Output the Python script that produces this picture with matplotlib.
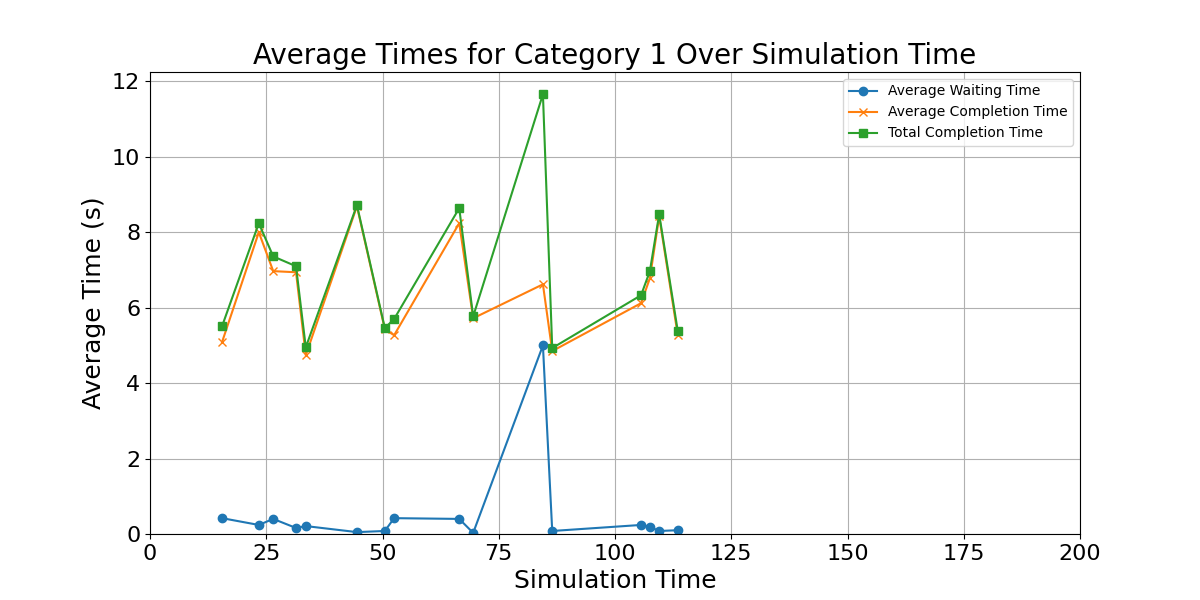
import matplotlib
matplotlib.use("Agg")
import matplotlib.pyplot as plt

sim_time = [15.5, 23.4, 26.5, 31.4, 33.5, 44.5, 50.5, 52.5, 66.5, 69.5,
            84.5, 86.5, 105.6, 107.5, 109.5, 113.5]
avg_waiting = [0.42, 0.24, 0.40, 0.16, 0.21, 0.05, 0.08, 0.42, 0.40, 0.03,
               5.0, 0.08, 0.24, 0.19, 0.08, 0.10]
avg_completion = [5.09, 8.0, 6.97, 6.94, 4.74, 8.69, 5.43, 5.27, 8.24, 5.72,
                  6.62, 4.85, 6.12, 6.78, 8.42, 5.27]
total_completion = [5.51, 8.24, 7.36, 7.10, 4.95, 8.72, 5.46, 5.70, 8.64, 5.77,
                    11.66, 4.93, 6.33, 6.97, 8.48, 5.38]

fig, ax = plt.subplots(figsize=(12, 6), dpi=100)
ax.plot(sim_time, avg_waiting, marker="o", label="Average Waiting Time")
ax.plot(sim_time, avg_completion, marker="x", label="Average Completion Time")
ax.plot(sim_time, total_completion, marker="s", label="Total Completion Time")
ax.set_xlim(0, 200)
ax.set_ylim(0, 12.25)
ax.set_title("Average Times for Category 1 Over Simulation Time", fontsize=20)
ax.set_xlabel("Simulation Time", fontsize=18)
ax.set_ylabel("Average Time (s)", fontsize=18)
ax.tick_params(labelsize=16)
ax.grid(True)
ax.legend(fontsize=10, loc="upper right")
fig.subplots_adjust(left=0.125, right=0.9, top=0.88, bottom=0.11)
fig.savefig("out.png")
plt.close(fig)
